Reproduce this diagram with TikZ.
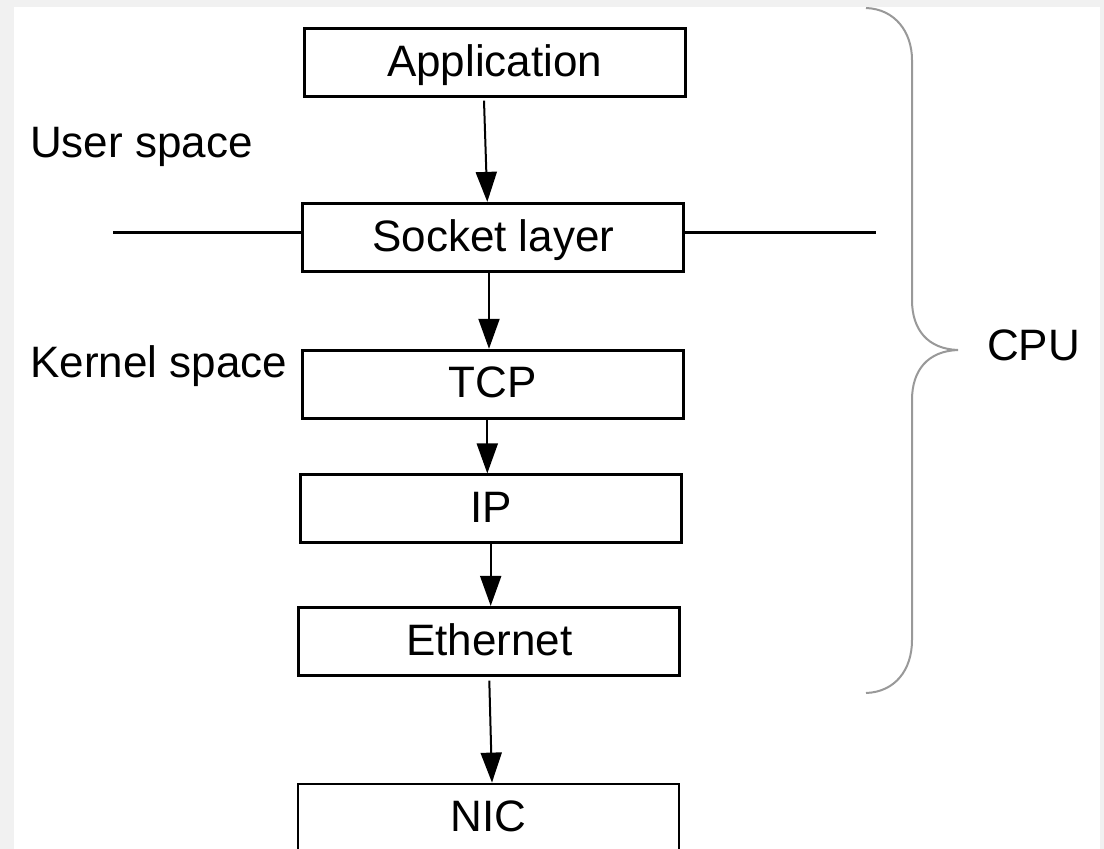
\documentclass[tikz,border=0pt]{standalone}
\usepackage{fontspec}
\setmainfont{Liberation Sans}
\usetikzlibrary{arrows.meta}
\definecolor{bggray}{HTML}{F1F1F1}
\definecolor{bracegray}{HTML}{999999}
\tikzset{
  layerbox/.style={draw=black, line width=2.8pt, fill=white, minimum width=381pt, minimum height=68pt,
    inner sep=0pt, text height=31.5pt, text depth=4pt, font=\fontsize{44}{50}\selectfont},
  lbl/.style={inner sep=0pt, font=\fontsize{44}{50}\selectfont},
  flow/.style={draw=black, line width=2pt, -{Triangle[length=30pt,width=21pt]}},
  sepline/.style={draw=black, line width=2.5pt},
  cpubrace/.style={draw=bracegray, line width=2pt}
}
\begin{document}
\begin{tikzpicture}[x=1pt,y=-1pt]
\useasboundingbox (0,0) rectangle (1104,849);
\fill[bggray] (0,0) rectangle (1104,849);
\fill[white] (14,7) rectangle (1100,849);
\clip (14,7) rectangle (1100,849);
% boxes
\node[layerbox] (app) at (494.7,62.3) {Application};
\node[layerbox] (sock) at (493.3,237.3) {Socket layer};
\node[layerbox] (tcp) at (492.8,384.2) {TCP};
\node[layerbox] (ip) at (491.3,508.8) {IP};
\node[layerbox] (eth) at (489.2,641.3) {Ethernet};
\node[layerbox] (nic) at (488.5,818) {NIC};
% labels
\node[lbl, anchor=base west] (user) at (30,157) {User space};
\node[lbl, anchor=base west] (kern) at (30,377) {Kernel space};
\node[lbl, anchor=base west] (cpu) at (987,360) {CPU};
% separator lines
\coordinate (sl) at (113,232.7);
\coordinate (sr) at (876,232.7);
\draw[sepline] (sl) -- (sl -| sock.west);
\draw[sepline] (sock.east |- sr) -- (sr);
% arrows
\draw[flow] ([xshift=-10.7pt,yshift=-3pt]app.south) -- ([xshift=-6pt]sock.north);
\draw[flow] ([xshift=-4.3pt]sock.south) -- ([xshift=-3.8pt]tcp.north);
\draw[flow] ([xshift=-5.5pt]tcp.south) -- ([xshift=-4pt]ip.north);
\draw[flow] ([xshift=-0.6pt]ip.south) -- ([xshift=1.5pt]eth.north);
\draw[flow] ([xshift=0.1pt,yshift=-4pt]eth.south) -- ([xshift=3.5pt]nic.north);
% brace
\coordinate (btop) at (866,8);
\coordinate (btip) at (958,350);
\coordinate (bbot) at (866,693);
\draw[cpubrace] (btop) .. controls (895,9) and (912,32) .. (912,60)
  -- (912,300) .. controls (912,330) and (928,349) .. (btip)
  .. controls (928,351) and (912,370) .. (912,400)
  -- (912,640) .. controls (912,670) and (895,692) .. (bbot);
\end{tikzpicture}
\end{document}
